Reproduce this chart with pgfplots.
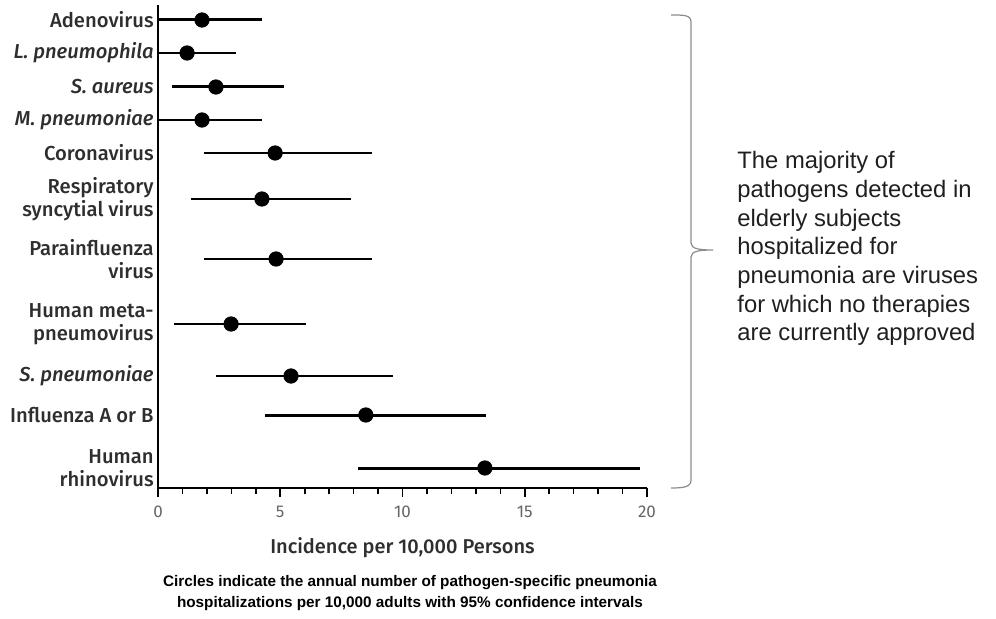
\documentclass[border=0pt]{standalone}
\usepackage{fontspec}
\usepackage{pgfplots}
\usepackage{pgfplotstable}
\pgfplotsset{compat=1.18}
\setmainfont{Liberation Sans}
\newfontfamily\labfont{Fira Sans}[UprightFont=* Medium, ItalicFont=* Medium Italic]
\newfontfamily\tickfont{Fira Sans}
\definecolor{labgray}{HTML}{2E2E2E}
\definecolor{tickgray}{HTML}{666666}
\definecolor{brgray}{HTML}{8C8C8C}

% y = row position (px from top), x = incidence, lo/hi = 95% CI
\pgfplotstableread{
y   x     lo    hi
20  1.80  0.00  4.25
87  2.37  0.57  5.15
415 8.50  4.38  13.40
468 13.37 8.18  19.70
}\thickdata
\pgfplotstableread{
y   x     lo    hi
53  1.19  0.00  3.20
120 1.80  0.00  4.25
153 4.79  1.88  8.75
199 4.25  1.35  7.90
259 4.83  1.88  8.75
324 2.99  0.65  6.05
376 5.44  2.37  9.60
}\thindata

\begin{document}
\begin{tikzpicture}
\useasboundingbox (0,0) rectangle (498pt,-309.5pt);
\begin{axis}[
  at={(79pt,-2.5pt)}, anchor=north west,
  scale only axis, width=244.5pt, height=241.5pt,
  xmin=0, xmax=20, ymin=5, ymax=488, y dir=reverse,
  axis x line=bottom, axis y line=left,
  axis line style={-, line width=0.9pt, black},
  clip=false,
  xtick={0,5,10,15,20}, minor x tick num=4,
  tick align=outside,
  x tick style={line width=0.8pt, black},
  major tick length=4.5pt, minor tick length=3.2pt,
  x tick label style={font=\tickfont\fontsize{8.5}{10}\selectfont, text=tickgray, yshift=-1pt},
  /pgf/number format/assume math mode=true,
  ytick={20,53,87,120,153,199,259,324,376,415,468},
  yticklabels={Adenovirus, {\itshape L. pneumophila}, {\itshape S. aureus}, {\itshape M. pneumoniae}, Coronavirus, {Respiratory\\syncytial virus}, {Parainfluenza\\virus}, {Human meta-\\pneumovirus}, {\itshape S. pneumoniae}, Influenza A or B, {Human\\rhinovirus}},
  y tick style={draw=none},
  y tick label style={font=\labfont\fontsize{10.1}{11.5}\selectfont, text=labgray, align=right, anchor=east, inner sep=1pt, xshift=3.5pt},
]
\addplot[only marks, mark=*, mark size=3.6pt, black,
  error bars/.cd, x dir=both, x explicit, error mark=none,
  error bar style={line width=1.5pt, black}]
  table[x=x, y=y, x error plus expr=\thisrow{hi}-\thisrow{x}, x error minus expr=\thisrow{x}-\thisrow{lo}] {\thickdata};
\addplot[only marks, mark=*, mark size=3.6pt, black,
  error bars/.cd, x dir=both, x explicit, error mark=none,
  error bar style={line width=1.1pt, black}]
  table[x=x, y=y, x error plus expr=\thisrow{hi}-\thisrow{x}, x error minus expr=\thisrow{x}-\thisrow{lo}] {\thindata};
\end{axis}
\begin{scope}[x=0.5pt,y=-0.5pt]
  \node[font=\labfont\fontsize{10}{11}\selectfont, text=labgray] at (402.5,548) {Incidence per 10,000 Persons};
  \node[font=\bfseries\fontsize{7.65}{10.2}\selectfont, align=center] at (410,593) {Circles indicate the annual number of pathogen-specific pneumonia\\hospitalizations per 10,000 adults with 95\% confidence intervals};
  \node[anchor=north west, align=left, inner sep=0pt, font=\fontsize{11.9}{14.35}\selectfont, text={black!88}] at (737,151) {The majority of\\pathogens detected in\\elderly subjects\\hospitalized for\\pneumonia are viruses\\for which no therapies\\are currently approved};
  \draw[brgray, line width=0.6pt] (671,15) .. controls (684,15) and (691,15) .. (691,22) -- (691,243) .. controls (691,249) and (700,250) .. (713,250) .. controls (700,250) and (691,251) .. (691,257) -- (691,480) .. controls (691,487) and (684,488) .. (671,488);
\end{scope}
\end{tikzpicture}
\end{document}
